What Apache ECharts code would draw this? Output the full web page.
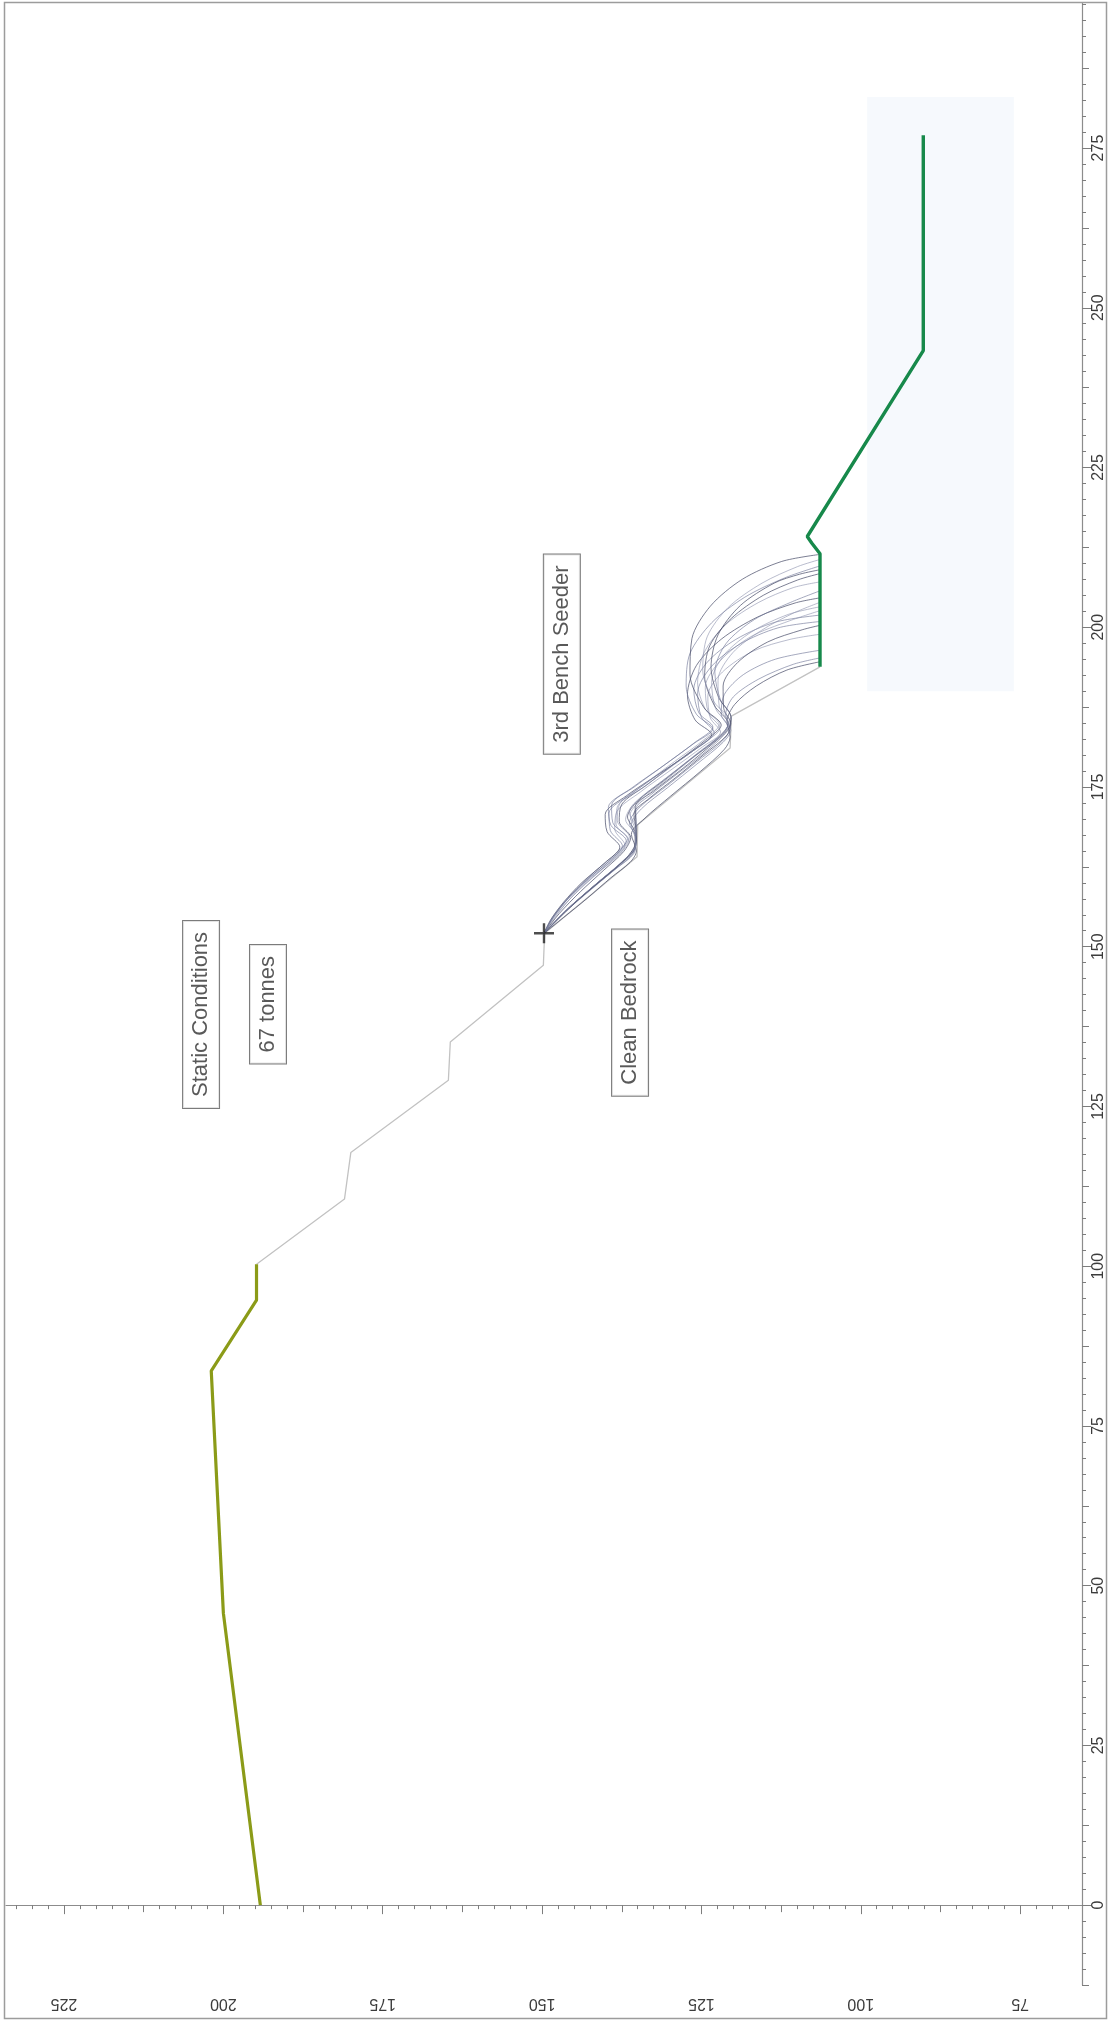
<!DOCTYPE html>
<html>
<head>
<meta charset="utf-8">
<script src="https://cdn.jsdelivr.net/npm/echarts@6/dist/echarts.min.js"></script>
<style>
  html, body { margin: 0; padding: 0; background: #ffffff; }
  #chart { width: 1108px; height: 2023px; }
</style>
</head>
<body>
<div id="chart"></div>
<script>
// Slope section. Every point is [distance along section (m), elevation (m)].
const upperSlope = [[0, 194.2], [45.7, 200.0], [83.6, 201.9], [94.7, 194.8], [100.3, 194.8]];
const bedrockSlope = [[100.3, 194.8], [110.5, 181.0], [117.8, 180.0], [129.1, 164.7], [135.1, 164.4],
  [147.1, 149.8], [152.1, 149.6], [164.1, 135.1], [169.1, 135.0], [181.1, 120.5], [186.1, 120.3], [193.8, 106.4]];
const seededBench = [[193.8, 106.4], [211.5, 106.4], [213.2, 107.7], [214.2, 108.4], [243.3, 90.2], [277.0, 90.2]];

// Release point of the seeder
const seederPoint = [152.1, 149.7];

// Simulated rock paths, release point to landing on the bench
const rockPaths = [
  [[152.1,149.7],[154.6,146.6],[157.6,142.9],[160.8,139.2],[163.2,136.2],[165.0,135.2],[167.6,136.0],[170.0,134.0],[173.6,129.8],[177.4,125.2],[180.9,121.4],[182.8,120.5],[185.2,121.0],[187.9,119.8],[190.8,116.4],[193.3,111.6],[194.6,106.4]],
  [[152.1,149.7],[155.4,146.5],[158.8,142.6],[162.2,138.4],[164.6,135.6],[166.9,135.2],[169.4,136.3],[171.9,134.6],[175.2,130.4],[178.9,125.8],[182.2,121.7],[184.0,120.6],[186.4,121.9],[189.5,121.4],[192.6,118.4],[195.0,113.4],[196.4,106.4]],
  [[152.1,149.7],[154.5,148.3],[157.4,146.0],[160.6,142.6],[163.5,139.0],[165.9,137.0],[168.4,138.6],[171.1,138.3],[174.2,134.6],[177.8,129.6],[181.3,124.8],[183.6,122.0],[185.8,123.6],[189.2,124.0],[193.0,121.7],[196.3,116.8],[198.1,111.1],[198.9,106.4]],
  [[152.1,149.7],[156.2,145.6],[159.9,141.4],[163.4,137.3],[165.9,135.3],[168.3,135.3],[170.8,135.6],[173.2,133.2],[176.5,129.0],[180.1,124.6],[183.1,121.0],[184.9,120.4],[187.3,121.5],[190.8,121.6],[194.5,119.3],[197.7,114.6],[199.6,109.2],[200.3,106.4]],
  [[152.1,149.7],[155.0,148.0],[158.3,145.3],[161.7,141.8],[164.7,138.3],[166.9,136.6],[169.4,138.9],[172.1,139.1],[175.1,135.4],[178.6,130.6],[182.0,126.0],[184.4,123.2],[186.6,125.4],[190.3,126.2],[194.4,124.2],[198.1,119.6],[200.8,113.4],[201.9,106.4]],
  [[152.1,149.7],[155.7,146.1],[159.1,142.1],[162.5,138.2],[165.0,135.6],[167.3,135.3],[169.9,136.9],[172.4,135.6],[175.6,131.6],[179.2,126.9],[182.6,122.4],[184.5,120.9],[187.3,122.8],[191.4,123.4],[195.6,121.5],[199.3,117.1],[202.0,111.4],[203.2,106.4]],
  [[152.1,149.7],[154.3,148.6],[157.0,146.6],[160.0,143.8],[163.1,140.2],[165.6,137.8],[168.0,139.8],[170.7,140.1],[173.6,136.8],[177.1,131.6],[180.6,126.4],[183.2,123.4],[185.5,126.0],[189.4,127.2],[194.0,125.8],[198.2,121.8],[201.6,116.2],[203.8,110.3],[204.6,106.4]],
  [[152.1,149.7],[156.6,145.2],[160.4,140.8],[163.9,136.8],[166.4,135.2],[168.9,135.2],[171.5,135.3],[173.9,132.8],[177.2,128.6],[180.8,124.0],[183.9,120.8],[185.8,120.3],[188.6,122.0],[193.0,122.9],[197.5,121.1],[201.2,116.7],[203.9,111.0],[205.7,106.4]],
  [[152.1,149.7],[155.1,147.6],[158.5,144.7],[161.9,140.9],[164.9,137.7],[167.2,136.3],[169.7,138.2],[172.4,137.8],[175.4,134.0],[179.0,129.2],[182.4,124.6],[184.8,122.2],[187.2,124.4],[191.3,125.6],[196.0,124.6],[200.4,121.2],[203.9,116.0],[206.2,110.6],[207.1,106.4]],
  [[152.1,149.7],[155.9,146.0],[159.5,141.9],[162.9,137.8],[165.4,135.5],[167.8,135.4],[170.3,136.6],[172.8,135.0],[176.0,130.9],[179.6,126.4],[182.9,122.2],[184.9,120.8],[187.8,123.0],[192.3,124.5],[197.1,123.7],[201.4,120.3],[205.0,115.3],[207.4,109.9],[208.4,106.4]],
  [[152.1,149.7],[154.7,148.2],[157.8,145.7],[161.1,142.2],[164.2,138.6],[166.6,136.8],[169.0,139.2],[171.8,139.6],[174.8,136.0],[178.3,131.0],[181.8,126.2],[184.1,123.2],[186.4,125.8],[190.8,127.4],[195.9,126.8],[200.7,123.4],[204.7,118.2],[207.7,112.0],[209.6,106.4]],
  [[152.1,149.7],[156.4,145.4],[160.1,141.2],[163.6,137.1],[166.1,135.3],[168.6,135.3],[171.1,136.3],[173.5,134.3],[176.8,130.0],[180.4,125.5],[183.5,121.6],[185.4,120.6],[188.3,123.0],[193.3,124.8],[198.5,124.1],[203.1,120.8],[206.9,115.5],[209.5,109.9],[210.6,106.4]],
  [[152.1,149.7],[155.2,147.3],[158.6,144.0],[162.0,140.3],[164.9,137.2],[167.1,136.1],[169.6,137.9],[172.3,137.5],[175.3,133.6],[178.9,128.9],[182.3,124.4],[184.7,121.9],[187.4,124.6],[192.6,126.8],[198.2,126.5],[203.3,123.6],[207.5,118.6],[210.3,112.4],[211.4,106.4]],
  [[152.1,149.7],[155.6,146.4],[158.9,142.5],[162.1,138.6],[164.5,135.8],[166.6,135.3],[169.1,136.0],[171.6,134.4],[174.9,130.3],[178.6,125.7],[182.0,121.6],[183.9,120.4],[186.3,121.2],[189.1,120.0],[191.9,116.0],[194.2,110.6],[195.2,106.4]],
  [[152.1,149.7],[154.9,147.9],[158.1,145.0],[161.4,141.4],[164.4,137.9],[166.7,136.4],[169.2,138.4],[171.9,138.2],[174.9,134.2],[178.4,129.4],[181.8,124.8],[184.2,122.1],[186.6,123.9],[190.6,124.4],[194.8,122.0],[198.5,117.3],[201.0,111.2],[202.6,106.4]],
  [[152.1,149.7],[156.8,144.9],[160.7,140.4],[164.2,136.5],[166.8,135.2],[169.3,135.3],[171.9,135.4],[174.3,132.6],[177.6,128.3],[181.2,123.9],[184.2,120.7],[186.0,120.4],[189.0,122.3],[193.7,123.5],[198.8,122.4],[203.4,118.9],[206.9,113.6],[208.3,109.6],[209.0,106.4]],
  [[152.1,149.7],[154.4,148.5],[157.2,146.3],[160.3,143.2],[163.3,139.6],[165.8,137.4],[168.2,139.3],[170.9,139.5],[173.9,136.0],[177.4,131.1],[180.9,126.0],[183.5,123.0],[185.9,125.0],[189.7,125.6],[193.9,123.4],[197.4,118.9],[199.9,113.0],[200.9,106.4]],
  [[152.1,149.7],[156.0,145.9],[159.7,141.7],[163.2,137.6],[165.7,135.4],[168.0,135.3],[170.6,136.2],[173.0,134.4],[176.3,130.3],[179.9,125.9],[183.0,121.9],[184.9,120.7],[187.6,122.2],[191.7,122.4],[196.0,120.1],[199.5,115.6],[202.2,110.6],[203.9,106.4]]
];

// Text notes placed on the section, [distance, elevation]
const noteTexts = ['Static Conditions', '67 tonnes', 'Clean Bedrock', '3rd Bench Seeder'];
const notePoints = [[139.4, 203.5], [141.0, 193.0], [139.7, 136.2], [195.8, 146.9]];

// Axis labels
const elevationLabels = [75, 100, 125, 150, 175, 200, 225];
const distanceLabels = [0, 25, 50, 75, 100, 125, 150, 175, 200, 225, 250, 275];

// Axis extents
const ELEV_MIN = 65.3, ELEV_MAX = 234.1;
const DIST_MIN = -12.5, DIST_MAX = 297.7;

// Minor and half-way tick positions between the labelled ticks
function ticksBetween(lo, hi, step, skip) {
  const out = [];
  for (let v = Math.ceil(lo / step) * step; v <= hi + 1e-9; v += step) {
    const r = Math.round(v * 10) / 10;
    if (!skip || Math.abs(r / skip - Math.round(r / skip)) > 1e-6) out.push(r);
  }
  return out;
}
const elevMinor = ticksBetween(ELEV_MIN, ELEV_MAX, 2.5, 12.5);
const elevMid = ticksBetween(ELEV_MIN, ELEV_MAX, 12.5, 25);
const distMinor = ticksBetween(DIST_MIN, DIST_MAX, 2.5, 12.5);
const distMid = ticksBetween(DIST_MIN, DIST_MAX, 12.5, 25);

// Elevation runs along the x axis (reversed), distance along the y axis
const toXY = p => [p[1], p[0]];

const FONT = '"Liberation Sans", Arial, sans-serif';
const tickColor = '#7d7d7d';

function elevAxis(ticks, len, withLabels) {
  return {
    type: 'value', position: 'bottom', inverse: true,
    min: ELEV_MIN, max: ELEV_MAX,
    axisLine: { show: withLabels, lineStyle: { color: '#8c8c8c', width: 1.2 } },
    axisTick: { show: true, customValues: ticks, length: len, lineStyle: { color: tickColor, width: 1 } },
    axisLabel: withLabels ? {
      show: true, customValues: elevationLabels, rotate: 180, margin: 10,
      fontSize: 16, color: '#3c3c3c', fontFamily: FONT
    } : { show: false },
    splitLine: { show: false }
  };
}
function distAxis(ticks, len, withLabels) {
  return {
    type: 'value', position: 'right',
    min: DIST_MIN, max: DIST_MAX,
    axisLine: { show: withLabels, lineStyle: { color: '#8c8c8c', width: 1.2 } },
    axisTick: { show: true, customValues: ticks, length: len, lineStyle: { color: tickColor, width: 1 } },
    axisLabel: withLabels ? {
      show: true, customValues: distanceLabels, rotate: 90, margin: 9,
      fontSize: 16, color: '#3c3c3c', fontFamily: FONT
    } : { show: false },
    splitLine: { show: false }
  };
}

const pathColors = ['rgba(72,76,104,0.8)', 'rgba(112,118,152,0.7)', 'rgba(135,140,170,0.65)'];

const series = [];

series.push({
  type: 'line', name: 'bedrock', data: bedrockSlope.map(toXY),
  showSymbol: false, silent: true, z: 1,
  lineStyle: { color: '#c2c2c2', width: 1.3 }
});

rockPaths.forEach((path, i) => {
  series.push({
    type: 'line', data: path.map(toXY), smooth: 0.3,
    showSymbol: false, silent: true, z: 2,
    lineStyle: { color: pathColors[i % 3], width: 0.9 }
  });
});

series.push({
  type: 'line', name: 'upper', data: upperSlope.map(toXY),
  showSymbol: false, silent: true, z: 3,
  lineStyle: { color: '#8b9b18', width: 3.2 }
});

series.push({
  type: 'line', name: 'bench', data: seededBench.map(toXY),
  showSymbol: false, silent: true, z: 4,
  lineStyle: { color: '#17894b', width: 3.4 },
  markArea: {
    silent: true,
    itemStyle: { color: 'rgba(228,237,248,0.32)' },
    data: [[{ coord: [99, 190] }, { coord: [76, 283] }]]
  }
});

series.push({
  type: 'scatter', name: 'seeder', data: [toXY(seederPoint)],
  symbol: 'path://M4.4,0H5.6V10H4.4ZM0,4.4H10V5.6H0Z', symbolSize: 20,
  itemStyle: { color: '#222222' }, silent: true, z: 6
});

series.push({
  type: 'scatter', name: 'notes',
  data: notePoints.map((p, i) => ({ value: toXY(p), name: noteTexts[i] })),
  symbolSize: 0, silent: true, z: 7,
  label: {
    show: true, position: 'inside', rotate: 90, formatter: '{b}',
    fontSize: 22, fontFamily: FONT, color: '#2f2f2f',
    backgroundColor: '#ffffff', borderColor: '#5a5a5a', borderWidth: 1,
    padding: [8, 11, 6, 11]
  }
});

const chart = echarts.init(document.getElementById('chart'), null, { renderer: 'canvas' });
chart.setOption({
  animation: false,
  backgroundColor: '#ffffff',
  grid: { left: 6, right: 26, top: 3, bottom: 38, outerBoundsMode: 'none' },
  xAxis: [
    elevAxis(elevationLabels, 9, true),
    elevAxis(elevMid, 7, false),
    elevAxis(elevMinor, 4, false)
  ],
  yAxis: [
    distAxis(distanceLabels, 9, true),
    distAxis(distMid, 7, false),
    distAxis(distMinor, 4, false)
  ],
  series: series,
  graphic: [{
    type: 'rect', silent: true, z: 100,
    shape: { x: 4.5, y: 2.5, width: 1102, height: 2016 },
    style: { fill: 'none', stroke: '#9c9c9c', lineWidth: 1.5 }
  }]
});
</script>
</body>
</html>
